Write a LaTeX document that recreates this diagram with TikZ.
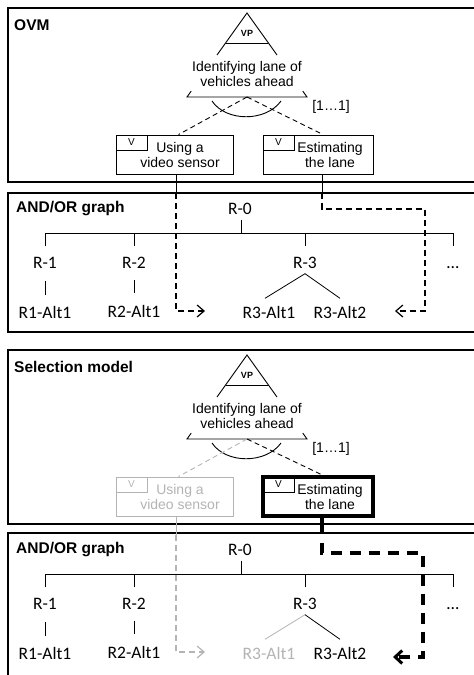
\documentclass[tikz,border=0pt]{standalone}
\usepackage{fontspec}
\setmainfont{Liberation Sans}
\newfontfamily\calib{Carlito}
\usetikzlibrary{arrows.meta,calc}
\definecolor{faded}{RGB}{180,180,180}

\tikzset{
  panel/.style={draw, line width=1.2},
  paneltitle/.style={anchor=west, inner sep=0, font=\bfseries\fontsize{15.5}{16}\selectfont},
  feat/.style={inner sep=0, align=center, font=\fontsize{14}{15}\selectfont},
  vplabel/.style={inner sep=0, font=\bfseries\fontsize{9}{9}\selectfont},
  featbox/.style={draw, line width=0.9, inner sep=0, minimum width=117, minimum height=39},
  estbox/.style={draw, line width=0.9, inner sep=0, minimum width=110, minimum height=39},
  vtag/.style={draw, line width=0.9, anchor=north west, inner sep=0, minimum width=31, minimum height=15, font=\fontsize{10}{10}\selectfont},
  link/.style={line width=0.9},
  ovmdash/.style={line width=0.9, dash pattern=on 5pt off 3.5pt},
  trace/.style={line width=1.2, dash pattern=on 6pt off 4pt},
  barb/.style={-{Straight Barb[length=7pt,width=12pt,line width=1.2pt]}},
  boldtrace/.style={line width=3.2, dash pattern=on 11pt off 8pt},
  boldbarb/.style={-{Straight Barb[length=7pt,width=13pt,line width=3pt]}},
  tree/.style={inner sep=0, text height=11, text depth=0, font=\calib\fontsize{17.5}{18}\selectfont},
  treelink/.style={line width=0.8},
}

\begin{document}
\begin{tikzpicture}[x=1pt,y=-1pt]
\clip (0,0) rectangle (474,675);
\fill[white] (0,0) rectangle (474,675);

% ================= OVM =================
\draw[panel] (8,8) rectangle (490,182);
\node[paneltitle] (ovmT) at (14,25) {OVM};
\coordinate (apA) at (247,13);
\coordinate (blA) at (187,97);
\coordinate (brA) at (307,97);
\coordinate (baseA) at (247,97);
\draw[link] ($(apA)!0.5!(blA)$) -- (apA) -- ($(apA)!0.5!(brA)$);
\draw[link] ($(apA)!0.93!(blA)$) -- (blA) -- (brA) -- ($(apA)!0.93!(brA)$);
\draw[link] ($(apA)!0.357!(blA)$) -- ($(apA)!0.357!(brA)$);
\node[vplabel] (vpA) at (247,33) {VP};
\node[feat] (vpnameA) at (247,74) {Identifying lane of\\vehicles ahead};
\draw[link] (212,101) .. controls (226,122) and (266,122) .. (281,101);
\node[feat] (cardA) at (331,107) {[1…1]};

\node[featbox] (vidA) at (174.5,154.5) {};
\node[vtag] (vidVA) at (vidA.north west) {V};
\node[feat] (vidTA) at (180,155) {Using a\\video sensor};
\node[estbox] (estA) at (318,154.5) {};
\node[vtag] (estVA) at (estA.north west) {V};
\node[feat] (estTA) at (330,155) {Estimating\\the lane};

\draw[ovmdash] (baseA) -- ($(vidA.north)+(4,0)$);
\draw[ovmdash] (baseA) -- ($(estA.north)+(5,0)$);

% ================= AND/OR graph =================
\draw[panel] (8,193) rectangle (490,332);
\node[paneltitle] (aoT) at (16,209) {AND/OR graph};
\coordinate (busA) at (0,233);
\node[tree] (r0A) at (240,209) {R-0};
\node[tree] (r1A) at (45,263) {R-1};
\node[tree] (r2A) at (134,263) {R-2};
\node[tree] (r3A) at (305,263) {R-3};
\node[tree] (rmA) at (453,263) {…};
\node[tree] (a1A) at (45,313) {R1-Alt1};
\node[tree] (a2A) at (134,312) {R2-Alt1};
\node[tree] (a31A) at (269,313) {R3-Alt1};
\node[tree] (a32A) at (340,313) {R3-Alt2};

\draw[treelink] ($(r0A.south)+(1,0)$) ++(0,5) -- ($(r0A.south |- busA)+(1,0)$);
\draw[treelink] (r1A.north) ++(0,-11) -- (r1A.north |- busA) -- (rmA.north |- busA) -- ++(0,13);
\draw[treelink] (r2A.north |- busA) -- ++(0,13);
\draw[treelink] (r3A.north |- busA) -- ++(0,13);
\draw[treelink, shorten <=12.5, shorten >=12.5] (r1A.south) -- (a1A.north);
\draw[treelink, shorten <=11.5, shorten >=13.5] (r2A.south) -- (a2A.north);
\coordinate (forkA) at ($(r3A.south)+(0,5)$);
\draw[treelink] ($(a31A.north)+(-4,-9)$) -- (forkA) -- ($(a32A.north)+(0,-9)$);

% traces from the OVM variants into the graph
\coordinate (vidOutA) at ($(vidA.south)+(1.5,0)$);
\coordinate (estOutA) at ($(estA.south)+(4,0)$);
\coordinate (tipLA) at (205,311);
\coordinate (tipRA) at (395,311);
\draw[link] (vidOutA) -- ++(0,19) coordinate (vidDashA);
\draw[trace, barb] (vidDashA) |- (tipLA);
\draw[link] (estOutA) -- ++(0,19) coordinate (estDashA);
\draw[trace, barb] (estDashA) -- (estDashA |- 0,209) -| (425,311) -- (tipRA);

% ================= Selection model =================
\draw[panel] (8,350) rectangle (490,524);
\node[paneltitle] (selT) at (14,367) {Selection model};
\coordinate (apB) at (247,355);
\coordinate (blB) at (187,439);
\coordinate (brB) at (307,439);
\coordinate (baseB) at (247,439);
\draw[link] ($(apB)!0.5!(blB)$) -- (apB) -- ($(apB)!0.5!(brB)$);
\draw[link] ($(apB)!0.93!(blB)$) -- (blB) -- (brB) -- ($(apB)!0.93!(brB)$);
\draw[link] ($(apB)!0.357!(blB)$) -- ($(apB)!0.357!(brB)$);
\node[vplabel] (vpB) at (247,375) {VP};
\node[feat] (vpnameB) at (247,416) {Identifying lane of\\vehicles ahead};
\draw[link] (212,443) .. controls (226,464) and (266,464) .. (281,443);
\node[feat] (cardB) at (331,449) {[1…1]};

\node[featbox, draw=faded] (vidB) at (174.5,496.5) {};
\node[vtag, draw=faded, text=faded] (vidVB) at (vidB.north west) {V};
\node[feat, text=faded] (vidTB) at (180,497) {Using a\\video sensor};
\node[estbox, line width=3.4] (estB) at (318,496.5) {};
\node[vtag] (estVB) at ($(estB.north west)+(1.2,1.2)$) {V};
\node[feat] (estTB) at (330,497) {Estimating\\the lane};

\draw[ovmdash, faded] (baseB) -- ($(vidB.north)+(4,0)$);
\draw[ovmdash] (baseB) -- ($(estB.north)+(5,0)$);

% ================= AND/OR graph (selected) =================
\draw[panel] (8,533) rectangle (490,690);
\node[paneltitle] (aoTB) at (16,550) {AND/OR graph};
\coordinate (busB) at (0,574);
\node[tree] (r0B) at (240,550) {R-0};
\node[tree] (r1B) at (45,604) {R-1};
\node[tree] (r2B) at (134,604) {R-2};
\node[tree] (r3B) at (305,604) {R-3};
\node[tree] (rmB) at (453,604) {…};
\node[tree] (a1B) at (45,654) {R1-Alt1};
\node[tree] (a2B) at (134,653) {R2-Alt1};
\node[tree, text=faded] (a31B) at (269,654) {R3-Alt1};
\node[tree] (a32B) at (340,654) {R3-Alt2};

\draw[treelink] ($(r0B.south)+(1,0)$) ++(0,5) -- ($(r0B.south |- busB)+(1,0)$);
\draw[treelink] (r1B.north) ++(0,-11) -- (r1B.north |- busB) -- (rmB.north |- busB) -- ++(0,13);
\draw[treelink] (r2B.north |- busB) -- ++(0,13);
\draw[treelink] (r3B.north |- busB) -- ++(0,13);
\draw[treelink, shorten <=12.5, shorten >=12.5] (r1B.south) -- (a1B.north);
\draw[treelink, shorten <=11.5, shorten >=13.5] (r2B.south) -- (a2B.north);
\coordinate (forkB) at ($(r3B.south)+(0,5)$);
\draw[treelink, faded] ($(a31B.north)+(-4,-9)$) -- (forkB);
\draw[treelink] (forkB) -- ($(a32B.north)+(0,-9)$);

\coordinate (vidOutB) at ($(vidB.south)+(1.5,0)$);
\coordinate (estOutB) at ($(estB.south)+(4,0)$);
\coordinate (tipLB) at (205,652);
\coordinate (tipRB) at (393,657);
\draw[link, faded] (vidOutB) -- ++(0,19) coordinate (vidDashB);
\draw[trace, faded, barb] (vidDashB) |- (tipLB);
\draw[line width=3.4] (estOutB) -- ++(0,16) coordinate (estDashB);
\draw[boldtrace, boldbarb] ($(estDashB)+(0,9)$) -- (estDashB |- 0,553) -| (423,657) -- (tipRB);
\end{tikzpicture}
\end{document}
